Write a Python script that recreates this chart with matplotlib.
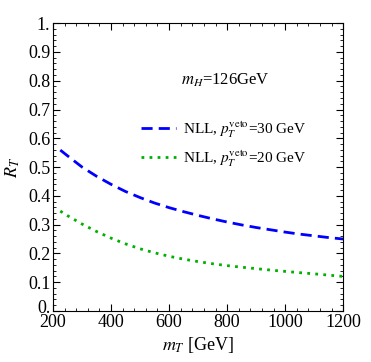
import matplotlib
matplotlib.use("Agg")
import matplotlib.pyplot as plt
import matplotlib.transforms as mtransforms
from matplotlib.ticker import MultipleLocator, FixedLocator

plt.rcParams['font.family'] = ['Liberation Serif', 'DejaVu Serif']
plt.rcParams['mathtext.fontset'] = 'stix'

# data
mT = [225, 250, 300, 350, 400, 450, 500, 550, 600, 650, 700, 750,
      800, 850, 900, 950, 1000, 1050, 1100, 1150, 1200]
nll_30 = [0.559, 0.539, 0.500, 0.468, 0.440, 0.415, 0.394, 0.375, 0.359, 0.345, 0.332, 0.320,
          0.309, 0.299, 0.290, 0.282, 0.274, 0.267, 0.261, 0.255, 0.250]
nll_20 = [0.347, 0.331, 0.302, 0.276, 0.253, 0.233, 0.216, 0.202, 0.190, 0.180, 0.1715, 0.164,
          0.1575, 0.152, 0.147, 0.142, 0.1375, 0.133, 0.129, 0.1245, 0.120]
ytick_vals = [0, 0.1, 0.2, 0.3, 0.4, 0.5, 0.6, 0.7, 0.8, 0.9, 1.0]
ytick_labels = ['0.', '0.1', '0.2', '0.3', '0.4', '0.5', '0.6', '0.7', '0.8', '0.9', '1.']

fig = plt.figure(figsize=(3.71, 3.62), dpi=100)
ax = fig.add_axes([0.143, 0.141, 0.782, 0.795])

ax.plot(mT, nll_30, color='#0000ff', lw=2, ls=(0, (4, 2.2)),
        label=r'NLL, $p_T^{\rm veto}$=30 GeV')
ax.plot(mT, nll_20, color='#00b000', lw=2, ls=(0, (1, 1.9)),
        label=r'NLL, $p_T^{\rm veto}$=20 GeV')

ax.set_xlim(200, 1200)
ax.set_ylim(0, 1)
ax.xaxis.set_major_locator(MultipleLocator(200))
ax.xaxis.set_minor_locator(MultipleLocator(40))
ax.yaxis.set_major_locator(FixedLocator(ytick_vals))
ax.yaxis.set_minor_locator(MultipleLocator(0.02))
ax.set_yticklabels(ytick_labels)

ax.tick_params(which='both', direction='in', top=True, right=True, labelsize=13, pad=2)
ax.tick_params(which='major', length=5, width=0.8)
ax.tick_params(which='minor', length=2.5, width=0.6)

# lift the "0." label a little, as in the original
lbl0 = ax.get_yticklabels()[0]
lbl0.set_transform(lbl0.get_transform() + mtransforms.ScaledTranslation(0, 3 / 72, fig.dpi_scale_trans))

ax.set_xlabel(r'$m_T$ [GeV]', fontsize=13, labelpad=3)
ax.set_ylabel(r'$R_T$', fontsize=13, labelpad=4)

ax.text(0.595, 0.80, r'$m_H$=126GeV', transform=ax.transAxes, fontsize=12,
        ha='center', va='center')

ax.legend(loc='upper left', bbox_to_anchor=(0.281, 0.687), frameon=False, fontsize=11,
          handlelength=2.3, handletextpad=0.5, labelspacing=0.57, borderaxespad=0)

fig.savefig('out.png', dpi=100)
